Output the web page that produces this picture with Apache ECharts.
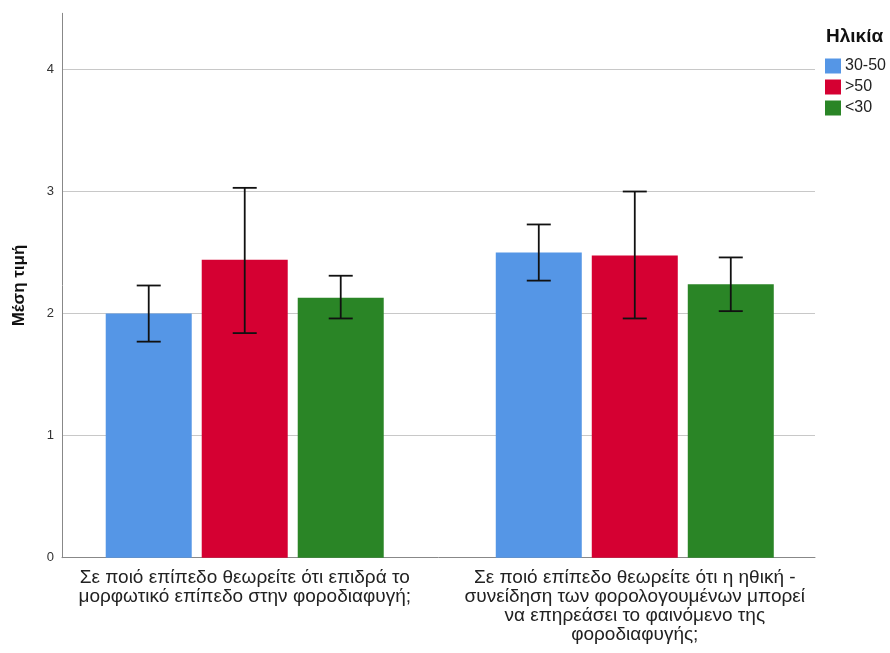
<!DOCTYPE html>
<html>
<head>
<meta charset="utf-8">
<script src="https://cdn.jsdelivr.net/npm/echarts@6/dist/echarts.min.js"></script>
<style>
  html, body { margin: 0; padding: 0; background: #fff; }
  #chart { width: 890px; height: 653px; }
</style>
</head>
<body>
<div id="chart"></div>
<script>
// Questions on the horizontal axis
const categories = [
  'Σε ποιό επίπεδο θεωρείτε ότι επιδρά το\nμορφωτικό επίπεδο στην φοροδιαφυγή;',
  'Σε ποιό επίπεδο θεωρείτε ότι η ηθική -\nσυνείδηση των φορολογουμένων μπορεί\nνα επηρεάσει το φαινόμενο της\nφοροδιαφυγής;'
];

// Age groups
const groups = ['30-50', '>50', '<30'];

// Mean values per age group
const mean3050 = [2.00, 2.50];
const meanOver50 = [2.44, 2.475];
const meanUnder30 = [2.13, 2.24];

// Error bar bounds per age group
const low3050 = [1.77, 2.27];
const high3050 = [2.23, 2.73];
const lowOver50 = [1.84, 1.96];
const highOver50 = [3.03, 3.00];
const lowUnder30 = [1.96, 2.02];
const highUnder30 = [2.31, 2.46];

// Y-axis ticks
const yTicks = [0, 1, 2, 3, 4];
const yMax = 4.46;

const colors = ['#5596e6', '#d50032', '#2a8526'];
const means = [mean3050, meanOver50, meanUnder30];
const lows = [low3050, lowOver50, lowUnder30];
const highs = [high3050, highOver50, highUnder30];

const barWidth = 86;
const barStep = 96;

const chart = echarts.init(document.getElementById('chart'), null, { renderer: 'canvas' });

const font = '"Liberation Sans", Arial, sans-serif';

const barSeries = groups.map((g, i) => ({
  name: g,
  type: 'bar',
  xAxisIndex: 1,
  yAxisIndex: 1,
  data: means[i],
  barWidth: barWidth,
  barGap: ((barStep - barWidth) / barWidth * 100).toFixed(2) + '%',
  itemStyle: { color: colors[i] },
  emphasis: { disabled: true }
}));

const errSeries = groups.map((g, i) => ({
  type: 'custom',
  xAxisIndex: 1,
  yAxisIndex: 1,
  z: 5,
  silent: true,
  data: categories.map((c, k) => [k, lows[i][k], highs[i][k]]),
  renderItem: function (params, api) {
    const pLo = api.coord([api.value(0), api.value(1)]);
    const pHi = api.coord([api.value(0), api.value(2)]);
    const x = pLo[0] + (i - 1) * barStep;
    const cap = 12;
    const style = { stroke: '#111', lineWidth: 1.8 };
    return {
      type: 'group',
      children: [
        { type: 'line', shape: { x1: x, y1: pLo[1], x2: x, y2: pHi[1] }, style: style },
        { type: 'line', shape: { x1: x - cap, y1: pLo[1], x2: x + cap, y2: pLo[1] }, style: style },
        { type: 'line', shape: { x1: x - cap, y1: pHi[1], x2: x + cap, y2: pHi[1] }, style: style }
      ]
    };
  }
}));

const option = {
  backgroundColor: '#fff',
  animation: false,
  textStyle: { fontFamily: font },
  title: {
    text: 'Ηλικία',
    left: 826,
    top: 27,
    padding: 0,
    textStyle: { fontFamily: font, fontSize: 19, fontWeight: 'bold', color: '#111' }
  },
  legend: {
    data: groups,
    orient: 'vertical',
    left: 825,
    top: 58,
    padding: 0,
    itemWidth: 16,
    itemHeight: 15,
    itemGap: 5,
    icon: 'rect',
    selectedMode: false,
    textStyle: { fontFamily: font, fontSize: 16, color: '#222', padding: [0, 0, 0, -1] }
  },
  grid: [
    // frame grid: axis lines and gridlines
    { left: 62, right: 75, top: 13.3, bottom: 95.3 },
    // bar grid: categories centred on the bar groups
    { left: 49.7, right: 60.2, top: 13.3, bottom: 95.3 }
  ],
  xAxis: [
    {
      type: 'category',
      gridIndex: 0,
      data: categories,
      axisLine: { show: true, lineStyle: { color: '#888', width: 1 } },
      axisTick: { show: false },
      axisLabel: { show: false },
      splitLine: { show: false }
    },
    {
      type: 'category',
      gridIndex: 1,
      data: categories,
      axisLine: { show: false },
      axisTick: { show: false },
      axisLabel: {
        show: true,
        interval: 0,
        hideOverlap: false,
        margin: 11,
        fontFamily: font,
        fontSize: 19,
        lineHeight: 19,
        color: '#222',
        align: 'center'
      },
      splitLine: { show: false }
    }
  ],
  yAxis: [
    {
      type: 'value',
      gridIndex: 0,
      min: yTicks[0],
      max: yMax,
      interval: 1,
      name: 'Μέση τιμή',
      nameLocation: 'middle',
      nameGap: 34,
      nameTextStyle: { fontFamily: font, fontSize: 17, fontWeight: 'bold', color: '#111' },
      axisLine: { show: true, lineStyle: { color: '#888', width: 1 } },
      axisTick: { show: false },
      axisLabel: {
        fontFamily: font,
        fontSize: 13,
        color: '#333',
        margin: 8,
        showMaxLabel: false,
        formatter: v => (yTicks.indexOf(v) >= 0 ? String(v) : '')
      },
      splitLine: { show: true, showMinLine: false, showMaxLine: false, lineStyle: { color: '#c8c8c8', width: 1.2 } }
    },
    {
      type: 'value',
      gridIndex: 1,
      min: yTicks[0],
      max: yMax,
      interval: 1,
      show: false,
      splitLine: { show: false }
    }
  ],
  series: barSeries.concat(errSeries)
};

chart.setOption(option);
</script>
</body>
</html>
